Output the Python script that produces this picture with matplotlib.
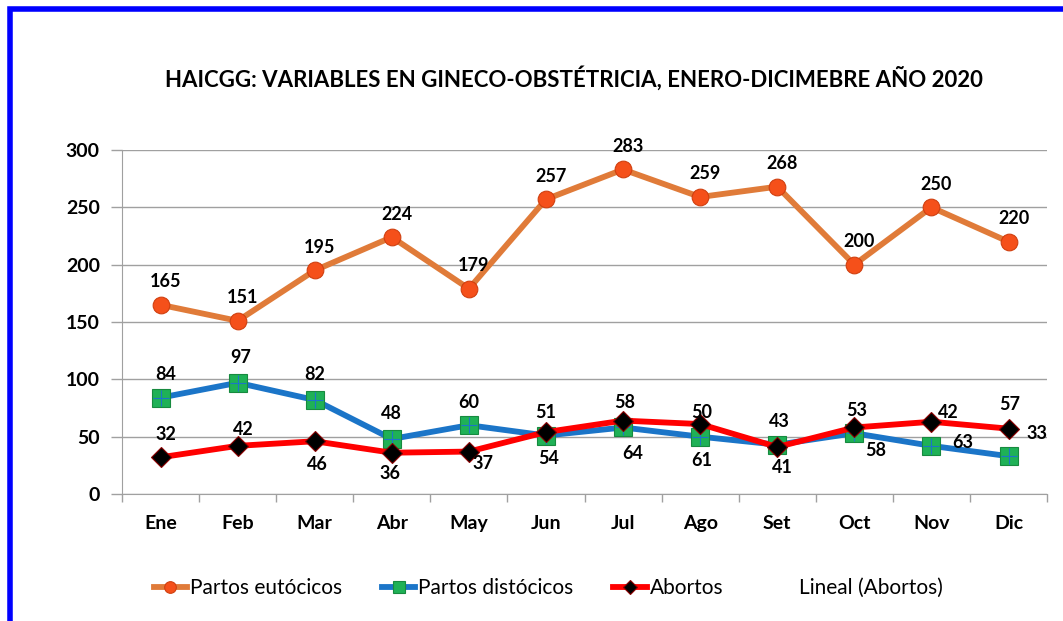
import numpy as np
import matplotlib.pyplot as plt
from matplotlib.lines import Line2D
from matplotlib.patches import Rectangle

plt.rcParams['font.family'] = ['Lato', 'DejaVu Sans']

meses = ['Ene', 'Feb', 'Mar', 'Abr', 'May', 'Jun', 'Jul', 'Ago', 'Set', 'Oct', 'Nov', 'Dic']
eutocicos = [165, 151, 195, 224, 179, 257, 283, 259, 268, 200, 250, 220]
distocicos = [84, 97, 82, 48, 60, 51, 58, 50, 43, 53, 42, 33]
abortos = [32, 42, 46, 36, 37, 54, 64, 61, 41, 58, 63, 57]

# label offsets in pixels (dx, dy), as Excel left them
off_eut = [(5, 23)] * 12
off_dis = [(5, 23), (3, 25), (0, 25), (0, 25), (0, 23), (0, 23),
           (2, 25), (2, 24), (2, 23), (2, 23), (17, 33), (28, 23)]
off_abo = [(5, 23), (6, 16), (3, -23), (-2, -21), (14, -12), (3, -26),
           (10, -33), (2, -36), (5, -21), (21, -23), (31, -21), (1, 24)]

fig = plt.figure(figsize=(10.63, 6.21), dpi=100)
ax = fig.add_axes([0.1148, 0.2045, 0.8702, 0.554])
x = np.arange(len(meses))

ax.plot(x, eutocicos, color='#E07B39', lw=4.2, marker='o', ms=12,
        mfc='#F5501A', mec='#D04010', mew=0.8, zorder=4, label='Partos eutócicos')
ax.plot(x, distocicos, color='#1B75C8', lw=4.2, marker='s', ms=13,
        mfc='#1FB156', mec='#178A3F', mew=0.8, zorder=3, label='Partos distócicos')
ax.plot(x, distocicos, ls='none', marker='+', ms=12, mec='#1B75C8', mew=0.8, zorder=3)
ax.plot(x, abortos, color='#FF0000', lw=4.2, marker='D', ms=10,
        mfc='#000000', mec='#8B0000', mew=0.8, zorder=5, label='Abortos')

for serie, offs in [(eutocicos, off_eut), (distocicos, off_dis), (abortos, off_abo)]:
    for i, v in enumerate(serie):
        ax.annotate(str(v), (x[i], v), xytext=offs[i], textcoords='offset pixels',
                    ha='center', va='center', fontsize=13, fontweight='bold', zorder=6)

ax.set_xlim(-0.5, len(meses) - 0.5)
ax.set_ylim(0, 300)
ax.set_yticks(np.arange(0, 301, 50))
ax.set_xticks(x)
ax.set_xticklabels(meses)
ax.set_xticks(np.arange(-0.5, len(meses), 1), minor=True)
ax.tick_params(axis='x', which='major', length=0, pad=15, labelsize=14)
ax.tick_params(axis='x', which='minor', length=6, color='#A0A0A0', width=1)
ax.tick_params(axis='y', length=8, color='#A0A0A0', width=1, pad=8, labelsize=14)
for lbl in ax.get_xticklabels() + ax.get_yticklabels():
    lbl.set_fontweight('bold')
ax.grid(axis='y', color='#A0A0A0', lw=1)
ax.set_axisbelow(True)
for s in ['top', 'right']:
    ax.spines[s].set_visible(False)
ax.spines['left'].set_color('#A0A0A0')
ax.spines['bottom'].set_color('#A0A0A0')

fig.text(0.54, 0.874, 'HAICGG: VARIABLES EN GINECO-OBSTÉTRICIA, ENERO-DICIMEBRE AÑO 2020',
         ha='center', va='center', fontsize=16, fontweight='bold')

handles, labels = ax.get_legend_handles_labels()
handles.append(Line2D([], [], color='none'))
labels.append('Lineal (Abortos)')
fig.legend(handles, labels, loc='center', bbox_to_anchor=(0.516, 0.053), ncol=4,
           frameon=False, fontsize=15, handlelength=1.6, handletextpad=0.15,
           columnspacing=1.9, markerscale=0.7)

# blue frame
fig.patches.append(Rectangle((0.009, -0.05), 1.1, 1.036, transform=fig.transFigure,
                             fill=False, edgecolor='#0000FF', lw=4))

fig.savefig('out.png', dpi=100)
